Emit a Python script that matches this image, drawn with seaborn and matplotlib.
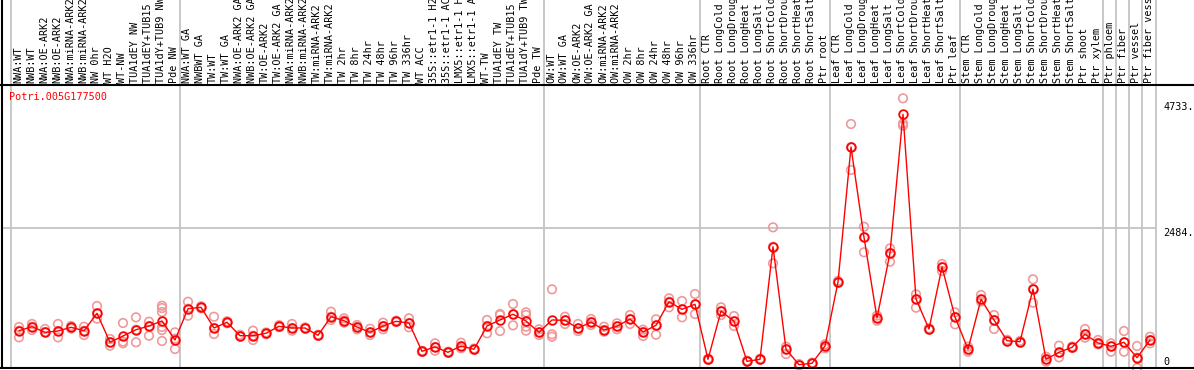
import numpy as np
import pandas as pd
import matplotlib
matplotlib.use("Agg")
import matplotlib.pyplot as plt
from matplotlib.lines import Line2D
import matplotlib.transforms as mtransforms
import seaborn as sns

gene = "Potri.005G177500"

labels = [
    "NWA:WT", "NWB:WT", "NWA:OE-ARK2", "NWB:OE-ARK2", "NWA:miRNA-ARK2", "NWB:miRNA-ARK2",
    "NW 0hr", "WT H2O", "WT-NW", "TUA1dEY NW", "TUA1dEY+TUB15 NW", "TUA1dY+TUB9 NW", "Pde NW",
    "NWA:WT GA", "NWBWT GA", "TW:WT", "TW:WT GA", "NWA:OE-ARK2 GA", "NWB:OE-ARK2 GA",
    "TW:OE-ARK2", "TW:OE-ARK2 GA", "NWA:miRNA-ARK2 GA", "NWB:miRNA-ARK2 GA", "TW:miRNA-ARK2",
    "TW:miRNA-ARK2 GA", "TW 2hr", "TW 8hr", "TW 24hr", "TW 48hr", "TW 96hr", "TW 336hr", "WT ACC",
    "35S::etr1-1 H2O", "35S::etr1-1 ACC", "LMX5::etr1-1 H2O", "LMX5::etr1-1 ACC", "WT-TW",
    "TUA1dEY TW", "TUA1dEY+TUB15 TW", "TUA1dY+TUB9 TW", "Pde TW",
    "OW:WT", "OW:WT GA", "OW:OE-ARK2", "OW:OE-ARK2 GA", "OW:miRNA-ARK2", "OW:miRNA-ARK2 GA",
    "OW 2hr", "OW 8hr", "OW 24hr", "OW 48hr", "OW 96hr", "OW 336hr",
    "Root CTR", "Root LongCold", "Root LongDrought", "Root LongHeat", "Root LongSalt",
    "Root ShortCold", "Root ShortDrought", "Root ShortHeat", "Root ShortSalt", "Ptr root",
    "Leaf CTR", "Leaf LongCold", "Leaf LongDrought", "Leaf LongHeat", "Leaf LongSalt",
    "Leaf ShortCold", "Leaf ShortDrought", "Leaf ShortHeat", "Leaf ShortSalt", "Ptr leaf",
    "Stem CTR", "Stem LongCold", "Stem LongDrought", "Stem LongHeat", "Stem LongSalt",
    "Stem ShortCold", "Stem ShortDrought", "Stem ShortHeat", "Stem ShortSalt", "Ptr shoot", "Ptr xylem",
    "Ptr phloem", "Ptr fiber", "Ptr vessel", "Ptr fiber vessel",
]

means = [662, 733, 633, 656, 722, 662, 970, 456, 568, 679, 745, 834, 497,
         1052, 1077, 710, 811, 573, 573, 616, 740, 710, 710, 580, 910, 839, 727, 633, 745, 828, 798,
         296, 373, 279, 390, 332, 745, 852, 953, 834, 633,
         852, 846, 704, 816, 674, 740, 869, 639, 757, 1176, 1041, 1130,
         154, 1011, 828, 119, 154, 2152, 332, 59, 83, 390,
         1526, 3921, 2319, 887, 2040, 4501, 1224, 692, 1792, 905,
         332, 1219, 852, 484, 467, 1401, 154, 279, 367, 598, 444,
         385, 456, 183, 497]

rep1 = [727, 781, 692, 781, 745, 733, 1100, 514, 798, 899, 821, 1105, 633,
        1176, 1095, 910, 830, 590, 662, 630, 760, 781, 720, 590, 999, 882, 763, 697, 804, 840, 882,
        305, 438, 290, 449, 345, 852, 958, 1135, 988, 687,
        1396, 910, 781, 869, 733, 793, 940, 568, 864, 1237, 1189, 1313,
        165, 1077, 922, 130, 165, 2496, 378, 70, 95, 349,
        1545, 4329, 2507, 839, 2123, 4785, 1307, 705, 1845, 988,
        378, 1295, 940, 500, 480, 1574, 200, 396, 380, 692, 497,
        438, 656, 390, 555]

rep2 = [544, 674, 639, 544, 700, 585, 875, 396, 438, 456, 573, 1064, 337,
        928, 1060, 603, 795, 560, 497, 600, 725, 662, 700, 570, 852, 804, 687, 585, 687, 815, 722,
        285, 307, 270, 349, 320, 616, 656, 757, 940, 585,
        598, 781, 656, 763, 644, 687, 781, 639, 591, 1077, 899, 958,
        145, 940, 745, 110, 145, 1857, 248, 50, 75, 390,
        1510, 3513, 2053, 887, 1886, 4340, 1070, 680, 1721, 775,
        289, 1180, 692, 470, 455, 1158, 112, 190, 355, 538, 420,
        289, 289, 0, 438]

rep3 = [662, 733, 633, 656, 722, 662, 970, 456, 470, 679, 745, 993, 520,
        1052, 1077, 710, 811, 573, 573, 616, 740, 710, 710, 580, 910, 839, 727, 633, 745, 828, 798,
        296, 373, 279, 390, 332, 745, 940, 953, 733, 633,
        555, 846, 704, 816, 674, 740, 869, 680, 757, 1176, 1041, 1130,
        154, 1011, 828, 119, 154, 2152, 332, 59, 83, 420,
        1526, 3921, 2319, 930, 2040, 4300, 1224, 692, 1792, 905,
        332, 1219, 852, 484, 467, 1401, 154, 279, 367, 598, 444,
        385, 456, 183, 497]

nan = np.nan
rep4 = [nan] * 88
rep5 = [nan] * 88
rep6 = [nan] * 88
rep4[11], rep5[11], rep6[11] = 728, 674, 479
rep4[39] = 662

group_starts = [0, 13, 41, 53, 63, 73, 84, 85, 86, 87]
y_ticks = [4733, 2484, 0]
y_tick_text = ["4733.", "2484.", "0"]

# ---------------------------------------------------------------
sns.set_theme(style="white")
plt.rcParams["font.family"] = ["DejaVu Sans Mono", "DejaVu Sans"]

W, H = 1194, 370
fig = plt.figure(figsize=(W / 100, H / 100), dpi=100)
ax_left, ax_right = 1.5, 1156
ax_top, ax_bot = 85, 368
ax = fig.add_axes([ax_left / W, (H - ax_bot) / H, (ax_right - ax_left) / W, (ax_bot - ax_top) / H])
for s in ax.spines.values():
    s.set_visible(False)

x = np.arange(len(labels))
xlo = (ax_left - 19) / 13.0
xhi = (ax_right - 19) / 13.0
ax.set_xlim(xlo, xhi)
ymax = 2484 / ((ax_bot - 228) / (ax_bot - ax_top))
ax.set_ylim(0, ymax)
ax.set_xticks([])
ax.set_yticks([])

grid_c = "#c4c4c4"
ax.axhline(2484, color=grid_c, lw=1.3, zorder=0)
ytop_axes = ax_bot / (ax_bot - ax_top)
for g in group_starts:
    ax.axvline(g - 0.6, ymin=0, ymax=ytop_axes, color=grid_c, lw=1.3, clip_on=False, zorder=0)
ax.axvline(xhi - 0.02, ymin=0, ymax=ytop_axes, color=grid_c, lw=1.3, clip_on=False, zorder=0)

# replicates
reps = pd.DataFrame({"x": np.tile(x, 6),
                     "v": np.concatenate([rep1, rep2, rep3, rep4, rep5, rep6])}).dropna()
sns.scatterplot(data=reps, x="x", y="v", ax=ax, marker="o", s=38,
                facecolors="none", edgecolor="#ef9a9a", linewidth=1.2, zorder=2,
                clip_on=False, legend=False)

# means
dfm = pd.DataFrame({"x": x, "v": means})
sns.lineplot(data=dfm, x="x", y="v", ax=ax, color="red", lw=1.0, marker="o",
             markersize=6.2, markerfacecolor="none", markeredgecolor="red",
             markeredgewidth=1.3, zorder=3, legend=False)
ax.set_xlabel("")
ax.set_ylabel("")

# header labels
trans = mtransforms.blended_transform_factory(ax.transData, ax.transAxes)
for xi, lab in zip(x, labels):
    ax.text(xi - 0.08, 1 + 2.5 / (ax_bot - ax_top), lab, transform=trans, rotation=90,
            ha="center", va="bottom", fontsize=7.3, color="black", clip_on=False)

# gene title
fig.text(9 / W, 1 - 97 / H, gene, color="red", fontsize=7.3, ha="left", va="center")

# y labels on the right
ypix = {4733: 107, 2484: 233, 0: 362}
for v, t in zip(y_ticks, y_tick_text):
    fig.text(1163 / W, 1 - ypix[v] / H, t, color="black", fontsize=7.3, ha="left", va="center")

# frame lines
fig.add_artist(Line2D([0, 1], [1 - ax_top / H, 1 - ax_top / H], transform=fig.transFigure,
                      color="black", lw=1.5))
fig.add_artist(Line2D([0, 1], [1 - ax_bot / H, 1 - ax_bot / H], transform=fig.transFigure,
                      color="black", lw=1.5))
fig.add_artist(Line2D([1.5 / W, 1.5 / W], [1 - ax_bot / H, 1], transform=fig.transFigure,
                      color="black", lw=1.5))

fig.savefig("out.png", dpi=100, facecolor="white")
